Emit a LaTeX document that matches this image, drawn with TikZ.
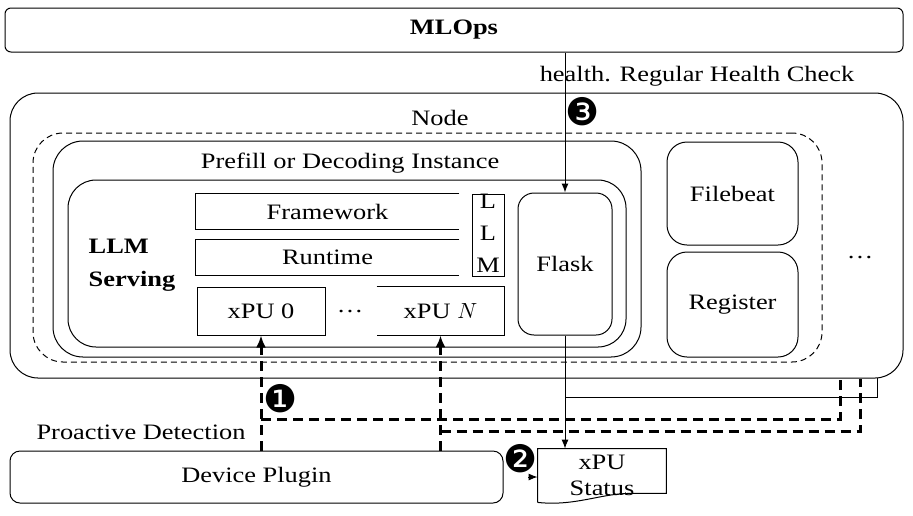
\documentclass[tikz,border=0pt]{standalone}
\usepackage{fontspec}
\setmainfont{Liberation Serif}[FakeStretch=1.2]
\newfontfamily\dingfont{DejaVu Sans}
\usetikzlibrary{arrows.meta}

\tikzset{
  lbl/.style={font=\fontsize{11}{13}\selectfont, inner sep=0pt},
  box/.style={lbl, draw, line width=0.5pt},
  cell/.style={lbl, minimum width=131.5pt, minimum height=17.5pt},
  num/.style={font=\dingfont\fontsize{19}{21}\selectfont, inner sep=0pt},
  conn/.style={line width=0.5pt, -{Latex[length=4.5pt,width=3.5pt]}},
  dashconn/.style={line width=1.5pt, dash pattern=on 5pt off 3pt},
  dashtip/.style={-{Latex[length=6pt,width=5pt]}}
}

\begin{document}
\begin{tikzpicture}[x=0.5pt, y=-0.5pt]
  \useasboundingbox (0,0) rectangle (913,515);

  % Containers
  \node[box, rounded corners=3pt, minimum width=449pt, minimum height=22pt, font=\fontsize{11}{13}\selectfont\bfseries] (mlops) at (454,30) {MLOps};
  \node[box, rounded corners=14pt, minimum width=446.5pt, minimum height=142.5pt] (nodebox) at (456.5,235.5) {};
  \node[box, dash pattern=on 3pt off 2pt, rounded corners=15pt, minimum width=394.5pt, minimum height=114.5pt] (pod) at (427.5,247.5) {};
  \node[box, rounded corners=15pt, minimum width=294pt, minimum height=108pt] (instance) at (347,249) {};
  \node[box, rounded corners=14pt, minimum width=279pt, minimum height=83.5pt] (serving) at (347,263.5) {};

  \node[lbl] (nodelbl) at (440,118) {Node};
  \node[lbl] (instlbl) at (350,163) {Prefill or Decoding Instance};
  \node[lbl, font=\fontsize{11}{13}\selectfont\bfseries, align=left] (servlbl) at (132,265) {LLM\\[3.5pt]Serving};
  \node[lbl] (health) at (697,76) {health. Regular Health Check};
  \node[lbl] (proactive) at (141,432) {Proactive Detection};

  % LLM serving stack
  \node[cell] (frame) at (327.5,211.5) {Framework};
  \draw[line width=0.5pt] (frame.north east) -- (frame.north west) -- (frame.south west) -- (frame.south east);
  \node[cell] (runtime) at (327.5,257.5) {Runtime};
  \draw[line width=0.5pt] (runtime.north east) -- (runtime.north west) -- (runtime.south west) -- (runtime.south east);
  \node[box, minimum width=64pt, minimum height=24pt] (xpu0) at (261,311) {xPU 0};
  \node[lbl, minimum width=63.5pt, minimum height=24pt] (xpuN) at (440.5,311) {xPU $N$};
  \draw[line width=0.5pt] (xpuN.north west) -- (xpuN.north east) -- (xpuN.south east) -- (xpuN.south west);
  \node[lbl] (dots1) at (350,312) {\dots};
  \node[box, minimum width=16pt, minimum height=41pt, align=center, anchor=north] (llm) at (488,194) {};
  \node[lbl, align=center, anchor=north] (llmtxt) at (488,194) {L\\[3pt]L\\[3pt]M};
  \node[box, rounded corners=8pt, minimum width=47pt, minimum height=71pt] (flask) at (565,264) {Flask};

  % Side services
  \node[box, rounded corners=10pt, minimum width=65.5pt, minimum height=51.5pt] (filebeat) at (732.5,193.5) {Filebeat};
  \node[box, rounded corners=10pt, minimum width=65.5pt, minimum height=52.5pt] (register) at (732.5,304.5) {Register};
  \node[lbl] (dots2) at (860,258) {\dots};

  % Bottom row
  \node[box, rounded corners=5pt, minimum width=246.5pt, minimum height=26pt] (dp) at (256.5,477) {Device Plugin};
  \node[lbl, align=center, minimum width=64pt, minimum height=26.5pt] (status) at (602,475.5) {xPU\\Status};
  \draw[line width=0.5pt] (status.south west) -- (status.north west) -- (status.north east)
    -- ([yshift=4.5pt]status.south east) -- ([xshift=-18pt,yshift=4.5pt]status.south east)
    .. controls ([xshift=-33pt,yshift=4.5pt]status.south east) and ([xshift=-45.5pt,yshift=-2pt]status.south east) .. (status.south west);

  % Connectors
  \draw[conn] (mlops.south -| flask.north) -- (flask.north);
  \draw[conn] (flask.south) -- (flask.south |- status.north);
  \coordinate (tap) at (565,397);
  \coordinate (nodecorner) at (877,378);
  \draw[line width=0.5pt] (tap) -| (nodecorner);

  \coordinate (d0) at (840,419);
  \coordinate (dN) at (860,431);
  \draw[dashconn, dashtip] (dp.north -| xpu0.south) -- (xpu0.south);
  \draw[dashconn, dashtip] (dp.north -| xpuN.south) -- (xpuN.south);
  \draw[dashconn] (xpu0.south |- d0) -- (d0) -- (d0 |- nodebox.south);
  \draw[dashconn] (xpuN.south |- dN) -- (dN) -- (dN |- nodebox.south);

  \coordinate (feed) at (528,477);
  \draw[conn] (feed) -- (feed -| status.west);

  % Step numbers
  \node[num] (n1) at (281,399) {❶};
  \node[num] (n2) at (521,459) {❷};
  \node[num] (n3) at (583,112) {❸};
\end{tikzpicture}
\end{document}
